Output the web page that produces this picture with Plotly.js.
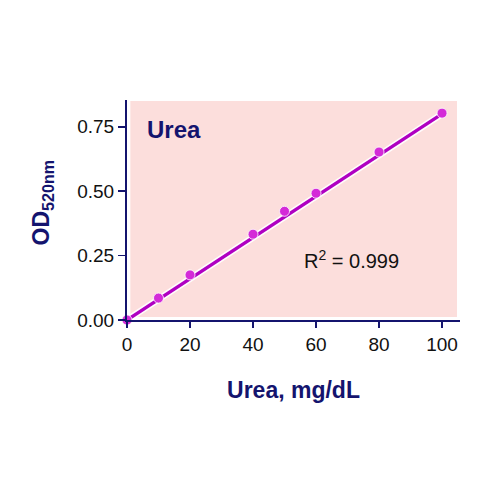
<!DOCTYPE html>
<html>
<head>
<meta charset="utf-8">
<script src="https://cdn.plot.ly/plotly-3.0.1.min.js"></script>
<style>
  html, body { margin: 0; padding: 0; background: #fff; }
  #chart { width: 500px; height: 500px; }
</style>
</head>
<body>
<div id="chart"></div>
<script>
// urea standard curve
const ureaConc = [0, 10, 20, 40, 50, 60, 80, 100];
const od520 = [0.0, 0.085, 0.175, 0.333, 0.422, 0.492, 0.652, 0.803];
// fitted line endpoints
const fitX = [0, 100];
const fitY = [0.0, 0.80];
const xTicks = [0, 20, 40, 60, 80, 100];
const yTicks = [0, 0.25, 0.5, 0.75];
const yTickText = ["0.00", "0.25", "0.50", "0.75"];

const NAVY = "#14146e";
const FONT = "Liberation Sans, Arial, sans-serif";

const haloTrace = {
  type: "scatter",
  mode: "lines",
  x: fitX,
  y: fitY,
  line: { color: "rgba(255,255,255,0.9)", width: 6.5 },
  hoverinfo: "skip",
  cliponaxis: false,
};

const fitTrace = {
  type: "scatter",
  mode: "lines",
  x: fitX,
  y: fitY,
  line: { color: "#b000c2", width: 3.4 },
  cliponaxis: false,
};

const pointTrace = {
  type: "scatter",
  mode: "markers",
  x: ureaConc,
  y: od520,
  marker: { color: "#d42ad8", size: 10, line: { color: "rgba(255,255,255,0.8)", width: 1 } },
  cliponaxis: false,
};

const layout = {
  width: 500,
  height: 500,
  margin: { l: 127, r: 40, t: 100, b: 180 },
  paper_bgcolor: "#ffffff",
  plot_bgcolor: "#ffffff",
  showlegend: false,
  font: { family: FONT, color: "#111", size: 19 },
  xaxis: {
    range: [0, 105.7],
    tickvals: xTicks,
    ticks: "outside",
    ticklen: 6,
    tickwidth: 1.5,
    tickcolor: NAVY,
    showline: true,
    linecolor: NAVY,
    linewidth: 2,
    showgrid: false,
    zeroline: false,
    tickfont: { family: FONT, size: 19, color: "#111" },
    title: {
      text: "<b>Urea, mg/dL</b>",
      font: { family: FONT, size: 23, color: NAVY },
      standoff: 28,
    },
  },
  yaxis: {
    range: [0, 0.854],
    tickvals: yTicks,
    ticktext: yTickText,
    ticks: "outside",
    ticklen: 7,
    tickwidth: 1.5,
    tickcolor: NAVY,
    showline: true,
    linecolor: NAVY,
    linewidth: 2,
    showgrid: false,
    zeroline: false,
    tickfont: { family: FONT, size: 19, color: "#111" },
  },
  shapes: [
    {
      type: "rect",
      xref: "paper",
      yref: "paper",
      x0: 0.01,
      x1: 0.991,
      y0: 0.014,
      y1: 0.995,
      fillcolor: "#fcdedc",
      line: { width: 0 },
      layer: "below",
    },
  ],
  annotations: [
    {
      xref: "paper",
      yref: "paper",
      x: -0.255,
      y: 0.535,
      xanchor: "center",
      yanchor: "middle",
      textangle: -90,
      showarrow: false,
      text: "<b>OD<sub>520nm</sub></b>",
      font: { family: FONT, size: 23, color: NAVY },
    },
    {
      xref: "paper",
      yref: "paper",
      x: 0.14,
      y: 0.864,
      xanchor: "center",
      yanchor: "middle",
      showarrow: false,
      text: "<b>Urea</b>",
      font: { family: FONT, size: 24, color: NAVY },
    },
    {
      xref: "paper",
      yref: "paper",
      x: 0.675,
      y: 0.277,
      xanchor: "center",
      yanchor: "middle",
      showarrow: false,
      text: "R<sup>2</sup> = 0.999",
      font: { family: FONT, size: 20, color: "#111" },
    },
  ],
};

Plotly.newPlot("chart", [haloTrace, fitTrace, pointTrace], layout, { displayModeBar: false, staticPlot: true });
</script>
</body>
</html>
